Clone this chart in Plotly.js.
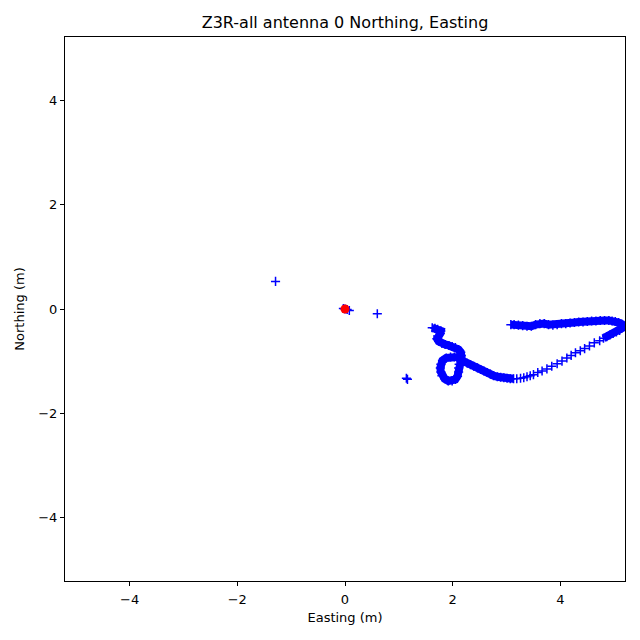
<!DOCTYPE html>
<html>
<head>
<meta charset="utf-8">
<script src="https://cdn.plot.ly/plotly-3.0.1.min.js"></script>
<style>html,body{margin:0;padding:0;background:#fff;}#chart{width:640px;height:640px;}</style>
</head>
<body>
<div id="chart"></div>
<script>
// Stray single fixes
const strayE = [-1.29, 0.60, 1.14, 1.16, -0.03, 0.0, 0.04, 0.08];
const strayN = [0.53, -0.09, -1.33, -1.35, 0.01, 0.0, -0.01, -0.03];

// Dense segment A: S-curve, loop, tail
const segAE = [1.62,1.67,1.72,1.78,1.77,1.72,1.71,1.74,1.80,1.86,1.93,1.99,2.05,2.11,2.15,2.16,
  2.10,2.03,1.96,1.88,1.81,1.78,1.77,1.78,1.80,1.85,1.92,1.99,2.05,2.09,2.11,2.11,2.12,2.15,
  2.20,2.27,2.33,2.39,2.46,2.52,2.58,2.64,2.70,2.76,2.83,2.89,2.95,3.01,3.07,3.13];
const segAN = [-0.36,-0.37,-0.39,-0.42,-0.47,-0.52,-0.57,-0.62,-0.66,-0.68,-0.70,-0.72,-0.74,-0.78,-0.83,-0.89,
  -0.92,-0.92,-0.92,-0.94,-0.99,-1.06,-1.13,-1.21,-1.28,-1.34,-1.38,-1.38,-1.35,-1.29,-1.21,-1.13,-1.06,-1.01,
  -1.00,-1.04,-1.07,-1.10,-1.13,-1.16,-1.19,-1.22,-1.25,-1.28,-1.30,-1.31,-1.32,-1.33,-1.34,-1.34];

// Sparse segment B
const segBE = [3.19,3.26,3.32,3.38,3.44,3.50,3.58,3.66,3.75,3.84,3.94,4.03,4.12,4.20,4.28,4.37,4.45,4.54,4.63,4.73];
const segBN = [-1.34,-1.33,-1.32,-1.30,-1.28,-1.26,-1.22,-1.19,-1.15,-1.10,-1.05,-1.00,-0.94,-0.89,-0.84,-0.80,-0.76,-0.71,-0.65,-0.61];

// Dense segment C: turn at right and top band
const segCE = [4.80,4.86,4.92,4.98,5.04,5.10,5.14,5.16,5.14,5.08,5.02,4.96,
  4.90,4.82,4.74,4.66,4.58,4.50,4.42,4.34,4.26,4.18,4.10,4.02,3.94,3.86,3.78,3.70,3.62,3.54,3.46,3.38,3.30,3.22,3.14,3.08];
const segCN = [-0.56,-0.53,-0.50,-0.47,-0.44,-0.41,-0.37,-0.33,-0.29,-0.26,-0.24,-0.23,
  -0.22,-0.22,-0.22,-0.23,-0.23,-0.24,-0.25,-0.25,-0.26,-0.27,-0.28,-0.28,-0.30,-0.31,-0.30,-0.28,-0.28,-0.30,-0.33,-0.33,-0.32,-0.31,-0.30,-0.30];

// Reference point
const refE = [0.0];
const refN = [0.0];

const crossMarker = {symbol: 'cross-thin-open', size: 6.5, color: '#0000ff', line: {color: '#0000ff', width: 1.5}};
const traces = [
  {x: strayE, y: strayN, type: 'scatter', mode: 'markers', marker: crossMarker},
  {x: segAE, y: segAN, type: 'scatter', mode: 'lines+markers', line: {color: '#0000ff', width: 8}, marker: crossMarker},
  {x: segBE, y: segBN, type: 'scatter', mode: 'markers', marker: crossMarker},
  {x: segCE, y: segCN, type: 'scatter', mode: 'lines+markers', line: {color: '#0000ff', width: 8}, marker: crossMarker},
  {x: refE, y: refN, type: 'scatter', mode: 'markers', marker: {symbol: 'circle', size: 9, color: '#ff0000'}}
];

const axisCommon = {
  showgrid: false, zeroline: false, showline: true, mirror: true,
  linecolor: '#000', linewidth: 1, ticks: 'outside', ticklen: 4, tickwidth: 1, tickcolor: '#000',
  tickfont: {family: 'DejaVu Sans', size: 13, color: '#000'}, dtick: 2, tick0: 0
};

const layout = {
  width: 640, height: 640,
  paper_bgcolor: '#fff', plot_bgcolor: '#fff',
  showlegend: false,
  margin: {l: 65, r: 15, t: 37, b: 59},
  font: {family: 'DejaVu Sans', color: '#000'},
  title: {text: 'Z3R-all antenna 0 Northing, Easting', font: {family: 'DejaVu Sans', size: 16, color: '#000'},
    x: 0.5, xref: 'paper', y: 1 - 22/640, yref: 'container', yanchor: 'middle'},
  xaxis: Object.assign({}, axisCommon, {range: [-5.2, 5.2], automargin: false, ticklabelstandoff: 2,
    title: {text: 'Easting (m)', font: {family: 'DejaVu Sans', size: 13, color: '#000'}, standoff: 7}}),
  yaxis: Object.assign({}, axisCommon, {range: [-5.22, 5.22], automargin: false,
    title: {text: 'Northing (m)', font: {family: 'DejaVu Sans', size: 13, color: '#000'}, standoff: 10}})
};

Plotly.newPlot('chart', traces, layout, {displayModeBar: false, staticPlot: true});
</script>
</body>
</html>
